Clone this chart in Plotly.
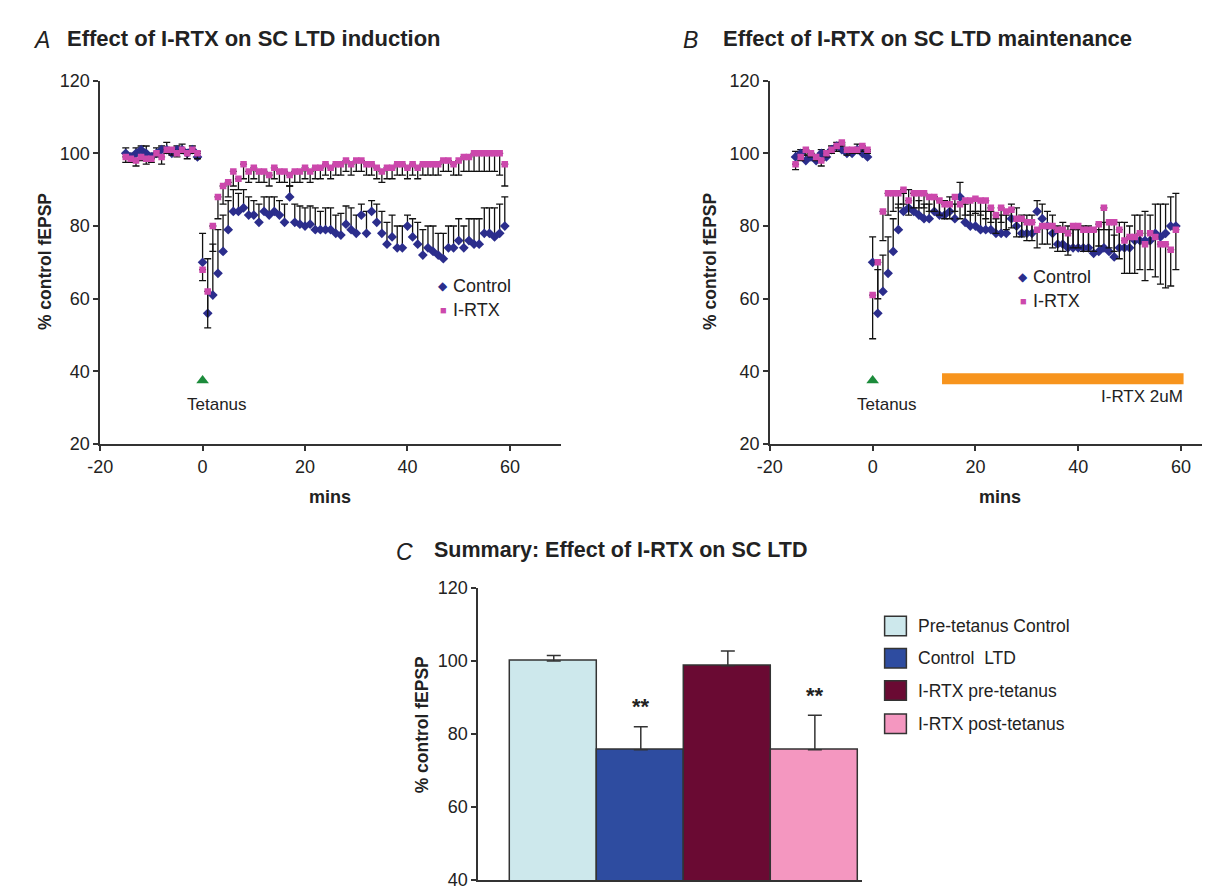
import plotly.graph_objects as go

W, H = 1210, 888
FONT = "Liberation Sans, Arial, sans-serif"
TXT = "#222222"

# ---------------- data ----------------
mins = [-15, -14, -13, -12, -11, -10, -9, -8, -7, -6, -5, -4, -3, -2, -1,
        0, 1, 2, 3, 4, 5, 6, 7, 8, 9, 10, 11, 12, 13, 14, 15, 16, 17, 18, 19,
        20, 21, 22, 23, 24, 25, 26, 27, 28, 29, 30, 31, 32, 33, 34, 35, 36, 37, 38, 39,
        40, 41, 42, 43, 44, 45, 46, 47, 48, 49, 50, 51, 52, 53, 54, 55, 56, 57, 58, 59]

a_control = [100, 99, 100, 101, 100, 99, 100, 101, 101, 100, 101, 101, 100, 101, 99,
             70, 56, 61, 67, 73, 79, 84, 84, 85, 83, 83, 81, 84, 83, 84, 83, 81, 88, 81, 80.5,
             80, 80.5, 79, 79, 79, 79, 78, 77.5, 80.5, 79, 78, 83, 78, 84, 81, 78, 75, 77, 74, 74,
             80, 77, 75, 72, 74, 73, 72, 71, 74, 74, 76, 74, 76, 75, 75, 78, 78, 77, 78, 80]
a_control_err = [1.5, 1, 1.5, 1, 2, 1, 1.5, 1, 2, 1, 1, 1.5, 1, 1, 1.5,
                 8, 15, 14, 12, 10, 8, 6, 5, 5, 5, 4, 5, 4, 5, 4, 4, 5, 3, 5, 5,
                 5, 5, 6, 5, 6, 6, 5, 6, 5, 6, 5, 3, 6, 3, 5, 6, 6, 6, 6, 6,
                 3, 5, 6, 7, 6, 7, 6, 7, 6, 6, 6, 6, 6, 7, 7, 7, 7, 8, 8, 8]
a_irtx = [99, 98.5, 98, 99, 98.5, 98.5, 100, 99, 101, 101, 100, 101, 100, 101, 100,
          68, 62, 80, 88, 91, 92, 95, 93, 97, 95, 96, 95, 95, 94, 96, 95, 95, 94, 95, 95,
          96, 95, 96, 96, 97, 96, 97, 97, 98, 97, 98, 98, 97, 97, 96, 95, 96, 96, 97, 97,
          96, 97, 96, 97, 97, 97, 97, 98, 98, 97, 98, 99, 99, 100, 100, 100, 100, 100, 100, 97]
a_irtx_err = [1.5, 1, 1.5, 1, 1.5, 1, 1, 2, 1, 1.5, 1, 1, 1.5, 1, 1.5,
              3, 10, 7, 6, 5, 4, 4, 3, 4, 3, 3, 3, 3, 3, 3, 3, 3, 3, 3, 3,
              3, 3, 3, 3, 3, 3, 3, 3, 3, 3, 3, 3, 3, 3, 3, 3, 3, 3, 3, 3,
              3, 3, 3, 3, 3, 3, 3, 3, 3, 3, 4, 4, 4, 5, 5, 5, 5, 5, 6, 6]

b_control = [99, 100, 98, 99, 98, 100, 99, 101, 102, 101, 100, 100, 101, 100, 99,
             70, 56, 62, 67, 73, 79, 84, 85, 84, 83, 82, 82, 84, 83, 83, 84, 82, 88, 81, 80,
             80, 79, 79, 79, 78, 78, 78, 82, 80, 78, 78, 78, 84, 82, 80, 78, 75, 75, 74, 74,
             74, 74, 74, 72.5, 73, 74, 73, 71.5, 74, 74, 74, 76, 76, 76, 76, 78, 77, 78, 80, 80]
b_control_err = [1.5, 1, 1.5, 1, 1.5, 1, 1.5, 1, 1, 1.5, 1, 1, 1.5, 1, 1.5,
                 7, 12, 10, 10, 9, 7, 5, 5, 5, 4, 4, 4, 4, 4, 4, 4, 4, 4, 5, 4,
                 4, 5, 5, 5, 4, 5, 5, 4, 5, 5, 5, 5, 3, 4, 4, 5, 5, 6, 6, 5,
                 5, 6, 6, 6, 6, 7, 6, 6, 7, 7, 6, 7, 7, 8, 7, 8, 9, 8, 8, 9]
b_irtx = [97, 99, 101, 100, 99, 98, 100, 101, 102, 103, 101, 101, 101, 102, 101,
          61, 70, 84, 89, 89, 89, 90, 87, 89, 89, 89, 88, 88, 87, 86, 86, 88, 86, 87, 87,
          87.5, 87, 87, 85, 83, 85, 84, 84.5, 82, 82, 81, 81, 79, 80, 80, 80, 79, 79, 78, 80,
          80, 79, 79, 79, 80.5, 85, 81, 81, 79, 76, 77, 77, 78, 75, 78, 77, 75, 75, 73.5, 79]
b_irtx_err = [1.5, 1, 1.5, 1, 1, 1.5, 1, 1, 1.5, 1, 1.5, 1, 1, 1.5, 1,
              12, 10, 8, 6, 5, 4, 4, 4, 4, 4, 4, 4, 4, 4, 4, 4, 4, 4, 4, 4,
              4, 4, 5, 4, 5, 4, 5, 5, 5, 5, 5, 5, 5, 5, 5, 6, 6, 6, 6, 6,
              6, 6, 6, 6, 6, 6, 7, 8, 8, 9, 10, 10, 10, 10, 10, 11, 11, 12, 10, 11]

summary_labels = ["Pre-tetanus Control", "Control\u00a0 LTD", "I-RTX pre-tetanus", "I-RTX post-tetanus"]
summary_pos = [1, 2, 3, 4]
summary_values = [100, 75.7, 98.7, 75.7]
summary_err = [1.5, 6.3, 4.0, 9.4]
summary_sig = ["", "**", "", "**"]
summary_colors = ["#CDE8EC", "#2E4CA0", "#6A0A33", "#F497C0"]

x_tickvals = [-20, 0, 20, 40, 60]
x_ticktext = ["-20", "0", "20", "40", "60"]
tetanus_time = [0]
tetanus_level = [37.5]
drug_window = [13.5, 60.5]
drug_level = [38, 38]

CTRL = "#2B2D8C"
IRTX = "#CC48AC"


def X(px):
    return px / W


def Y(py):
    return 1 - py / H


fig = go.Figure()

err_style = dict(color="#111111", thickness=1.3, width=3.5, symmetric=False)
zeros = [0] * len(mins)

for (ctrl, cerr, irtx, ierr, xa, ya) in [
        (a_control, a_control_err, a_irtx, a_irtx_err, "x", "y"),
        (b_control, b_control_err, b_irtx, b_irtx_err, "x2", "y2")]:
    fig.add_trace(go.Scatter(
        x=mins, y=ctrl, mode="markers", xaxis=xa, yaxis=ya, showlegend=False,
        marker=dict(symbol="diamond", size=7.5, color=CTRL),
        error_y=dict(type="data", array=cerr, arrayminus=zeros, **err_style)))
    fig.add_trace(go.Scatter(
        x=mins, y=irtx, mode="markers", xaxis=xa, yaxis=ya, showlegend=False,
        marker=dict(symbol="square", size=6.5, color=IRTX),
        error_y=dict(type="data", array=zeros, arrayminus=ierr, **err_style)))
    fig.add_trace(go.Scatter(
        x=tetanus_time, y=tetanus_level, mode="markers", xaxis=xa, yaxis=ya,
        showlegend=False, marker=dict(symbol="triangle-up", size=11, color="#1C8B3B")))

fig.add_trace(go.Scatter(
    x=drug_window, y=drug_level, mode="lines", xaxis="x2", yaxis="y2",
    showlegend=False, line=dict(color="#F7941D", width=11)))

fig.add_trace(go.Bar(
    x=summary_pos, y=summary_values, width=1, xaxis="x3", yaxis="y3", showlegend=False,
    marker=dict(color=summary_colors, line=dict(color="#333333", width=1.5)),
    error_y=dict(type="data", array=summary_err, arrayminus=[0] * 4, symmetric=False,
                 color="#333333", thickness=1.5, width=7)))

ax_common = dict(showgrid=False, zeroline=False, showline=True, linecolor="#333333",
                 linewidth=1.5, ticks="outside", ticklen=5, tickwidth=1.5,
                 tickcolor="#333333", tickfont=dict(family=FONT, size=18, color=TXT))

fig.update_layout(
    width=W, height=H, margin=dict(l=0, r=0, t=0, b=0),
    paper_bgcolor="white", plot_bgcolor="white", bargap=0,
    xaxis=dict(domain=[X(80), X(546)], range=[-20, 70], tickvals=x_tickvals,
               ticktext=x_ticktext, anchor="y", **ax_common),
    yaxis=dict(domain=[Y(436), Y(64)], range=[20, 120], dtick=20, anchor="x", **ax_common),
    xaxis2=dict(domain=[X(757), 1.0], range=[-20, 67.2], tickvals=x_tickvals,
                ticktext=x_ticktext, anchor="y2", **ax_common),
    yaxis2=dict(domain=[Y(436), Y(64)], range=[20, 120], dtick=20, anchor="x2", **ax_common),
    xaxis3=dict(domain=[X(462), X(850)], range=[0.13, 4.54], anchor="y3",
                showticklabels=False, **{k: v for k, v in ax_common.items() if k not in ("ticks",)},
                ticks=""),
    yaxis3=dict(domain=[Y(882), Y(583)], range=[40, 120], dtick=20, anchor="x3", **ax_common),
)

ann = []


def text(px, py, s, size=17, bold=False, italic=False, xanchor="left", angle=0, color=TXT):
    if bold:
        s = "<b>" + s + "</b>"
    if italic:
        s = "<i>" + s + "</i>"
    ann.append(dict(x=X(px), y=Y(py), xref="paper", yref="paper", text=s, showarrow=False,
                    xanchor=xanchor, yanchor="middle", textangle=angle,
                    font=dict(family=FONT, size=size, color=color)))


# panel letters and titles
text(10, 23, "A", size=23, italic=True)
text(44, 21, "Effect of I-RTX on SC LTD induction", size=22, bold=True)
text(667, 23, "B", size=23, italic=True)
text(708, 21, "Effect of I-RTX on SC LTD maintenance", size=22, bold=True)
text(377, 546, "C", size=23, italic=True)
text(415, 544, "Summary: Effect of I-RTX on SC LTD", size=21.5, bold=True)

# axis titles
text(25, 249, "% control fEPSP", size=17.5, bold=True, xanchor="center", angle=-90)
text(697, 249, "% control fEPSP", size=17.5, bold=True, xanchor="center", angle=-90)
text(405, 723, "% control fEPSP", size=17.5, bold=True, xanchor="center", angle=-90)
text(312, 490, "mins", size=18, bold=True, xanchor="center")
text(990, 490, "mins", size=18, bold=True, xanchor="center")

# legends A / B
for (mx, tx, y1, y2) in [(427, 435, 274, 299), (1013, 1021, 265, 290)]:
    text(mx, y1, "\u25C6", size=12, xanchor="center", color=CTRL)
    text(tx, y1, "Control", size=18)
    text(mx, y2, "\u25A0", size=11, xanchor="center", color=IRTX)
    text(tx, y2, "I-RTX", size=18)

# event labels (data coords)
for xa, ya in [("x", "y"), ("x2", "y2")]:
    ann.append(dict(x=2.8, y=31, xref=xa, yref=ya, text="Tetanus", showarrow=False,
                    xanchor="center", yanchor="middle", font=dict(family=FONT, size=17, color=TXT)))
ann.append(dict(x=60.8, y=33, xref="x2", yref="y2", text="I-RTX 2uM", showarrow=False,
                xanchor="right", yanchor="middle", font=dict(family=FONT, size=17, color=TXT)))

# significance stars
for pos, v, e, s in zip(summary_pos, summary_values, summary_err, summary_sig):
    if s:
        ann.append(dict(x=pos, y=v + e + 1.5, xref="x3", yref="y3", text="<b>" + s + "</b>",
                        showarrow=False, xanchor="center", yanchor="bottom",
                        font=dict(family=FONT, size=22, color=TXT)))

# summary legend
shapes = []
rows = [622, 655, 688, 722]
for lab, col, ry in zip(summary_labels, summary_colors, rows):
    shapes.append(dict(type="rect", xref="paper", yref="paper", x0=X(873), x1=X(895),
                       y0=Y(ry + 10), y1=Y(ry - 10), fillcolor=col,
                       line=dict(color="#333333", width=1.5)))
    text(905, ry, lab, size=17.5)

fig.update_layout(annotations=ann, shapes=shapes)
fig.write_html("out.html")
